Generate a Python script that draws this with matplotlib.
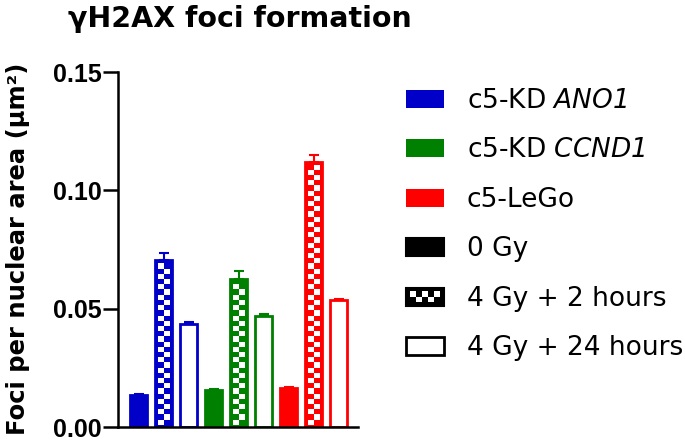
import matplotlib
matplotlib.use("Agg")
import matplotlib.pyplot as plt
from matplotlib.patches import Patch, Rectangle
from matplotlib.legend_handler import HandlerBase

# values (mean, upper error)
groups = ["c5-KD $\\mathrm{ANO1}$", "c5-KD $\\mathrm{CCND1}$", "c5-LeGo"]
conditions = ["0 Gy", "4 Gy + 2 hours", "4 Gy + 24 hours"]
means_ano1 = [0.0135, 0.0705, 0.0437]
means_ccnd1 = [0.0155, 0.0625, 0.0470]
means_lego = [0.0163, 0.1120, 0.0535]
err_ano1 = [0.0006, 0.0030, 0.0006]
err_ccnd1 = [0.0007, 0.0035, 0.0007]
err_lego = [0.0007, 0.0028, 0.0005]
colors = ["#0000c8", "#008000", "#ff0000"]
yticks = [0.00, 0.05, 0.10, 0.15]

plt.rcParams['font.family'] = ['DejaVu Sans']
# gene names are italic, digits included
plt.rcParams['mathtext.fontset'] = 'custom'
plt.rcParams['mathtext.rm'] = 'DejaVu Sans:italic'

W, H = 685, 440
fig = plt.figure(figsize=(6.85, 4.4), dpi=100)
ax = fig.add_axes([118 / W, 13 / H, 240 / W, 355 / H])

bar_w = 0.66
lw = 2.0
cell = 0.0022
bx, by = 0.09, 0.0009   # checker border in data units


def draw_checker(x, top, color):
    # white squares inside a filled bar, two columns
    inner = bar_w - 2 * bx
    cw = inner / 2
    xs, bottoms = [], []
    nrows = int((top - 2 * by) / cell)
    for i in range(nrows):
        for j in range(2):
            if (i + j) % 2 == 0:
                xs.append(x - inner / 2 + j * cw)
                bottoms.append(by + i * cell)
    ax.bar(xs, cell, width=cw, bottom=bottoms, align='edge',
           color='white', linewidth=0, zorder=3)


all_means = [means_ano1, means_ccnd1, means_lego]
all_errs = [err_ano1, err_ccnd1, err_lego]
pos = 0
for g, (means, errs, c) in enumerate(zip(all_means, all_errs, colors)):
    xs = [pos + k for k in range(len(means))]
    ax.errorbar(xs, means, yerr=[[0] * len(errs), errs], fmt='none',
                ecolor=c, elinewidth=1.5, capsize=3.5, capthick=1.5, zorder=1)
    for k, (x, m) in enumerate(zip(xs, means)):
        if k == 0:
            ax.bar(x, m, width=bar_w, color=c, edgecolor=c, linewidth=lw, zorder=2)
        elif k == 1:
            ax.bar(x, m, width=bar_w, color=c, edgecolor=c, linewidth=lw, zorder=2)
            draw_checker(x, m, c)
        else:
            ax.bar(x, m, width=bar_w, color='white', edgecolor=c, linewidth=lw, zorder=2)
    pos += len(means)

ax.set_xlim(-0.82, 8.78)
ax.set_ylim(0, 0.15)
ax.set_yticks(yticks)
ax.set_yticklabels([f"{t:.2f}" for t in yticks], fontfamily='Liberation Sans',
                   fontweight='bold', fontsize=18)
ax.set_xticks([])
ax.spines['top'].set_visible(False)
ax.spines['right'].set_visible(False)
ax.spines['left'].set_linewidth(1.8)
ax.spines['bottom'].set_linewidth(1.8)
ax.tick_params(axis='y', direction='out', length=10.5, width=1.8, pad=1.5)

fig.text(68 / W, 1 - 27 / H, "γH2AX foci formation", fontsize=20.5,
         fontweight='bold', va='baseline', ha='left')
fig.text(18 / W, 1 - 249 / H, "Foci per nuclear area (μm²)", fontsize=17.5,
         fontweight='bold', rotation=90, va='center', ha='center')


class CheckerHandler(HandlerBase):
    def create_artists(self, legend, orig_handle, xdescent, ydescent,
                       width, height, fontsize, trans):
        x0, y0 = -xdescent, -ydescent
        arts = [Rectangle((x0, y0), width, height, facecolor='black',
                          edgecolor='black', linewidth=1.5, transform=trans)]
        ncol, nrow = 5, 2
        px, py = width * 0.1, height * 0.18
        cw = (width - 2 * px) / ncol
        ch = (height - 2 * py) / nrow
        for i in range(nrow):
            for j in range(ncol):
                if (i + j) % 2 == 1:
                    arts.append(Rectangle((x0 + px + j * cw, y0 + py + i * ch), cw, ch,
                                          facecolor='white', linewidth=0, transform=trans))
        return arts


checker = Patch(facecolor='black')
handles = [Patch(facecolor=c, edgecolor='none') for c in colors]
handles += [Patch(facecolor='black', edgecolor='black', linewidth=1.5),
            checker,
            Patch(facecolor='white', edgecolor='black', linewidth=2)]
labels = groups + conditions
fig.legend(handles, labels, loc='upper left', bbox_to_anchor=(406 / W, 1 - 88 / H),
           frameon=False, fontsize=19, handlelength=1.45, handleheight=0.68,
           handletextpad=0.85, labelspacing=0.89, borderpad=0, borderaxespad=0,
           handler_map={checker: CheckerHandler()})

fig.savefig("out.png", dpi=100)
